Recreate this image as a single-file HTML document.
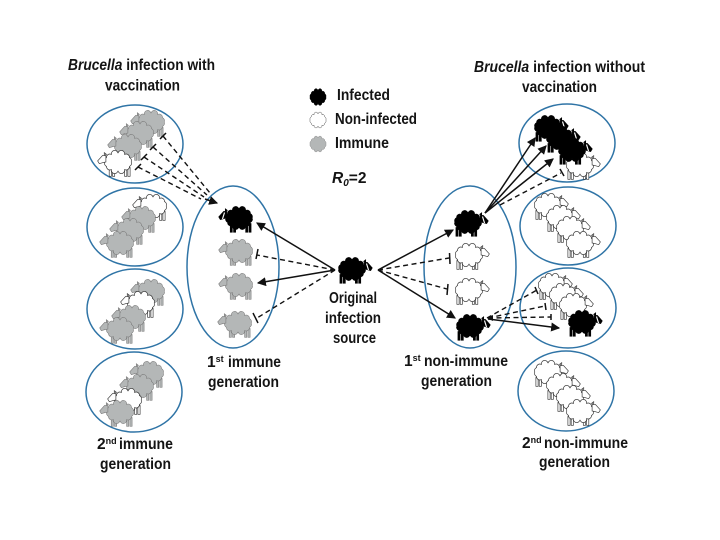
<!DOCTYPE html>
<html><head><meta charset="utf-8">
<style>
html,body{margin:0;padding:0;background:#fff}
svg{display:block}
text{font-family:"Liberation Sans",sans-serif;font-weight:bold;font-size:15.5px;fill:#141414}
.e{fill:none;stroke:#2f74a6;stroke-width:1.5}
.l{stroke:#111;stroke-width:1.5;fill:none}
.d{stroke:#111;stroke-width:1.4;fill:none;stroke-dasharray:5 3.5}
.g{fill:#b4b7b7;stroke:#777;stroke-width:.5}
.w{fill:#fff;stroke:#333;stroke-width:.6}
.k{fill:#000;stroke:#000;stroke-width:.5}
</style></head>
<body>
<svg width="720" height="540" viewBox="0 0 720 540" xmlns="http://www.w3.org/2000/svg">
<defs>
<path id="c" d="M12 0A3 3 0 0 1 10.4 4A3 3 0 0 1 6 6.9A3 3 0 0 1 0 8A3 3 0 0 1 -6 6.9A3 3 0 0 1 -10.4 4A3 3 0 0 1 -12 0A3 3 0 0 1 -10.4 -4A3 3 0 0 1 -6 -6.9A3 3 0 0 1 0 -8A3 3 0 0 1 6 -6.9A3 3 0 0 1 10.4 -4A3 3 0 0 1 12 0Z"/>
<g id="s" transform="scale(1.1)">
<rect x="-8" y="5" width="2" height="8"/><rect x="-5" y="5" width="2" height="8"/>
<rect x="6" y="5" width="2" height="8"/><rect x="9" y="5" width="2" height="8"/>
<use href="#c"/>
<path d="M-11 -6 L-14 -6 L-18.500 -1 L-17 1.500 L-13.500 .5 L-11 0Z"/>
<path d="M-12.500 -6 L-12.500 -8.500 L-10.500 -7Z"/>
</g>
<g id="b">
<use href="#s"/>
<path d="M-14.500 -5.500 L-16.500 1" stroke="#fff" stroke-width="1.2" fill="none"/>
</g>
<marker id="a" viewBox="0 0 8 8" refX="7" refY="4" markerWidth="6" markerHeight="6" markerUnits="strokeWidth" orient="auto"><path d="M0 0L8 4L0 8Z" fill="#111"/></marker>
</defs>

<rect width="720" height="540" fill="#fff"/>

<!-- ellipses -->
<ellipse class="e" cx="135" cy="144" rx="48" ry="39"/>
<ellipse class="e" cx="135" cy="227" rx="48" ry="39"/>
<ellipse class="e" cx="135" cy="309" rx="48" ry="40"/>
<ellipse class="e" cx="134" cy="392" rx="48" ry="40"/>
<ellipse class="e" cx="233" cy="267" rx="46" ry="81"/>
<ellipse class="e" cx="470" cy="267" rx="46" ry="81"/>
<ellipse class="e" cx="567" cy="143" rx="48" ry="39"/>
<ellipse class="e" cx="568" cy="226" rx="48" ry="39"/>
<ellipse class="e" cx="568" cy="308" rx="48" ry="40"/>
<ellipse class="e" cx="566" cy="391" rx="48" ry="40"/>

<!-- left circles sheep -->
<use href="#s" class="g" x="151" y="122"/>
<use href="#s" class="g" x="140" y="133"/>
<use href="#s" class="g" x="128" y="146"/>
<use href="#s" class="w" x="118" y="162"/>

<use href="#s" class="w" x="153" y="206"/>
<use href="#s" class="g" x="142" y="218"/>
<use href="#s" class="g" x="130" y="230"/>
<use href="#s" class="g" x="120" y="243"/>

<use href="#s" class="g" x="151" y="291"/>
<use href="#s" class="w" x="141" y="303"/>
<use href="#s" class="g" x="132" y="317"/>
<use href="#s" class="g" x="120" y="329"/>

<use href="#s" class="g" x="150" y="373"/>
<use href="#s" class="g" x="140" y="386"/>
<use href="#s" class="w" x="128" y="400"/>
<use href="#s" class="g" x="120" y="412"/>

<!-- left ellipse sheep -->
<use href="#b" class="k" x="239" y="218"/>
<use href="#s" class="g" x="239" y="251"/>
<use href="#s" class="g" x="239" y="285"/>
<use href="#s" class="g" x="238" y="323"/>

<!-- source -->
<g transform="translate(352,269) scale(-1,1)"><use href="#b" class="k"/></g>

<!-- right ellipse sheep -->
<g transform="translate(468,222) scale(-1,1)"><use href="#b" class="k"/></g>
<g transform="translate(469,255) scale(-1,1)"><use href="#s" class="w"/></g>
<g transform="translate(469,290) scale(-1,1)"><use href="#s" class="w"/></g>
<g transform="translate(470,326) scale(-1,1)"><use href="#b" class="k"/></g>

<!-- right circle 1 -->
<g transform="translate(548,127) scale(-1,1)"><use href="#b" class="k"/></g>
<g transform="translate(560,138) scale(-1,1)"><use href="#b" class="k"/></g>
<g transform="translate(580,165) scale(-1,1)"><use href="#s" class="w"/></g>
<g transform="translate(572,150) scale(-1,1)"><use href="#b" class="k"/></g>
<!-- right circle 2 -->
<g transform="translate(548,205) scale(-1,1)"><use href="#s" class="w"/></g>
<g transform="translate(560,217) scale(-1,1)"><use href="#s" class="w"/></g>
<g transform="translate(570,228) scale(-1,1)"><use href="#s" class="w"/></g>
<g transform="translate(580,243) scale(-1,1)"><use href="#s" class="w"/></g>
<!-- right circle 3 -->
<g transform="translate(552,285) scale(-1,1)"><use href="#s" class="w"/></g>
<g transform="translate(563,295) scale(-1,1)"><use href="#s" class="w"/></g>
<g transform="translate(573,305) scale(-1,1)"><use href="#s" class="w"/></g>
<g transform="translate(582,322) scale(-1,1)"><use href="#b" class="k"/></g>
<!-- right circle 4 -->
<g transform="translate(548,372) scale(-1,1)"><use href="#s" class="w"/></g>
<g transform="translate(560,385) scale(-1,1)"><use href="#s" class="w"/></g>
<g transform="translate(570,397) scale(-1,1)"><use href="#s" class="w"/></g>
<g transform="translate(580,411) scale(-1,1)"><use href="#s" class="w"/></g>

<!-- connectors: left top dashed -->
<path class="d" d="M163 136L210 193M153 147L207 195M144 157L204 197M138 167L201 199"/>
<path class="l" d="M160 139L166 133M150 150L156 144M141 160L147 154M135 170L141 164"/>
<path class="l" d="M205 199L217 203" marker-end="url(#a)"/>

<!-- source to left -->
<path class="l" d="M335 270L257 223" marker-end="url(#a)"/>
<path class="d" d="M335 270L257 255"/>
<path class="l" d="M258 249L256 259"/>
<path class="l" d="M335 270L258 283" marker-end="url(#a)"/>
<path class="d" d="M335 270L257 318"/>
<path class="l" d="M253 313L258 323"/>

<!-- source to right -->
<path class="l" d="M378 270L453 230" marker-end="url(#a)"/>
<path class="d" d="M378 270L449 258"/>
<path class="l" d="M449.500 253L450 264"/>
<path class="d" d="M378 270L447 289"/>
<path class="l" d="M448 284L447 295"/>
<path class="l" d="M378 270L455 318" marker-end="url(#a)"/>

<!-- right top -->
<path class="l" d="M485 213L535 138" marker-end="url(#a)"/>
<path class="l" d="M485 213L546 146" marker-end="url(#a)"/>
<path class="l" d="M485 213L553 159" marker-end="url(#a)"/>
<path class="d" d="M500 205L561 173"/>
<path class="l" d="M560 169L564 176"/>

<!-- right lower -->
<path class="d" d="M487 318L537 290"/>
<path class="l" d="M535 287L538 294"/>
<path class="d" d="M488 318L545 306"/>
<path class="l" d="M545 303L546 310"/>
<path class="d" d="M488 318L551 317"/>
<path class="l" d="M551 314L551 320"/>
<path class="l" d="M488 319L559 328" marker-end="url(#a)"/>
<path d="M487 318L493 315L493 321Z" fill="#111"/>

<!-- legend -->
<use href="#c" transform="translate(318,97) scale(.66,.8)" class="k"/>
<use href="#c" transform="translate(318,120) scale(.66,.75)" class="w"/>
<use href="#c" transform="translate(318,144) scale(.66,.75)" class="g"/>

<!-- text -->
<text x="68" y="70" textLength="147" lengthAdjust="spacingAndGlyphs"><tspan font-style="italic">Brucella</tspan> infection with</text>
<text x="105" y="90.500" textLength="75" lengthAdjust="spacingAndGlyphs">vaccination</text>
<text x="474" y="72" textLength="171" lengthAdjust="spacingAndGlyphs"><tspan font-style="italic">Brucella</tspan> infection without</text>
<text x="522" y="92" textLength="75" lengthAdjust="spacingAndGlyphs">vaccination</text>
<text x="337" y="100" textLength="53" lengthAdjust="spacingAndGlyphs">Infected</text>
<text x="335" y="124" textLength="82" lengthAdjust="spacingAndGlyphs">Non-infected</text>
<text x="335" y="148" textLength="54" lengthAdjust="spacingAndGlyphs">Immune</text>
<text x="332" y="183" font-style="italic">R<tspan font-size="10" dy="3">0</tspan><tspan dy="-3" font-style="normal">=2</tspan></text>
<text x="329" y="303" textLength="48" lengthAdjust="spacingAndGlyphs">Original</text>
<text x="325" y="323" textLength="56" lengthAdjust="spacingAndGlyphs">infection</text>
<text x="333" y="343" textLength="43" lengthAdjust="spacingAndGlyphs">source</text>
<text x="207" y="367">1<tspan font-size="9" dy="-5">st</tspan></text>
<text x="228" y="367" textLength="53" lengthAdjust="spacingAndGlyphs">immune</text>
<text x="208" y="387" textLength="71" lengthAdjust="spacingAndGlyphs">generation</text>
<text x="404" y="366">1<tspan font-size="9" dy="-5">st</tspan></text>
<text x="424" y="366" textLength="84" lengthAdjust="spacingAndGlyphs">non-immune</text>
<text x="421" y="386" textLength="71" lengthAdjust="spacingAndGlyphs">generation</text>
<text x="97" y="449">2<tspan font-size="9" dy="-5">nd</tspan></text>
<text x="119" y="449" textLength="54" lengthAdjust="spacingAndGlyphs">immune</text>
<text x="100" y="469" textLength="71" lengthAdjust="spacingAndGlyphs">generation</text>
<text x="522" y="448">2<tspan font-size="9" dy="-5">nd</tspan></text>
<text x="544" y="448" textLength="84" lengthAdjust="spacingAndGlyphs">non-immune</text>
<text x="539" y="467" textLength="71" lengthAdjust="spacingAndGlyphs">generation</text>
</svg>
</body></html>
